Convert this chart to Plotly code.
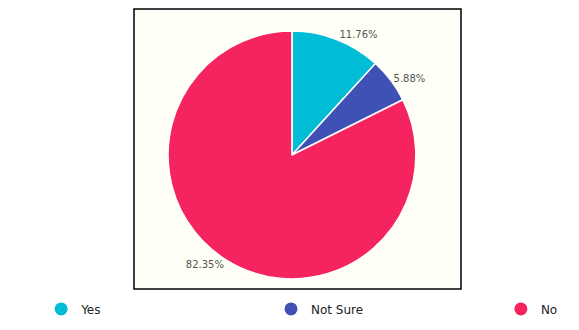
import plotly.graph_objects as go

labels = ["Yes", "Not Sure", "No"]
values = [2, 1, 14]
colors = ["#00BCD4", "#3F51B5", "#F5245E"]

fig = go.Figure()
fig.add_trace(go.Pie(
    labels=labels, values=values, sort=False, direction="clockwise", rotation=0,
    marker=dict(colors=colors, line=dict(color="white", width=1.5)),
    textinfo="percent", texttemplate="%{percent:.2%}", textposition="outside",
    textfont=dict(family="DejaVu Sans", size=10, color="#555555"),
    showlegend=False, hoverinfo="label+percent",
    domain=dict(x=[0.104, 0.862], y=[0.036, 0.921]),
))
legend_names = ["legend", "legend2", "legend3"]
for lab, col, lg in zip(labels, colors, legend_names):
    fig.add_trace(go.Scatter(
        x=[None], y=[None], mode="markers", name=lab, legend=lg,
        marker=dict(symbol="circle", size=13, color=col),
    ))

fig.add_shape(type="rect", xref="paper", yref="paper", x0=0, x1=1, y0=0, y1=1,
              fillcolor="#FFFFF7", line=dict(color="black", width=1.5), layer="below")

leg_font = dict(family="DejaVu Sans", size=12, color="#222222")
leg_common = dict(orientation="h", xanchor="left", y=-0.071, yanchor="middle",
                  font=leg_font, bgcolor="rgba(0,0,0,0)")
fig.update_layout(
    width=579, height=330,
    margin=dict(l=134, r=118, t=9, b=41, autoexpand=False),
    paper_bgcolor="white", plot_bgcolor="rgba(0,0,0,0)",
    xaxis=dict(visible=False), yaxis=dict(visible=False),
    legend=dict(x=-0.284, **leg_common),
    legend2=dict(x=0.419, **leg_common),
    legend3=dict(x=1.122, **leg_common),
)
fig.write_html("out.html")
